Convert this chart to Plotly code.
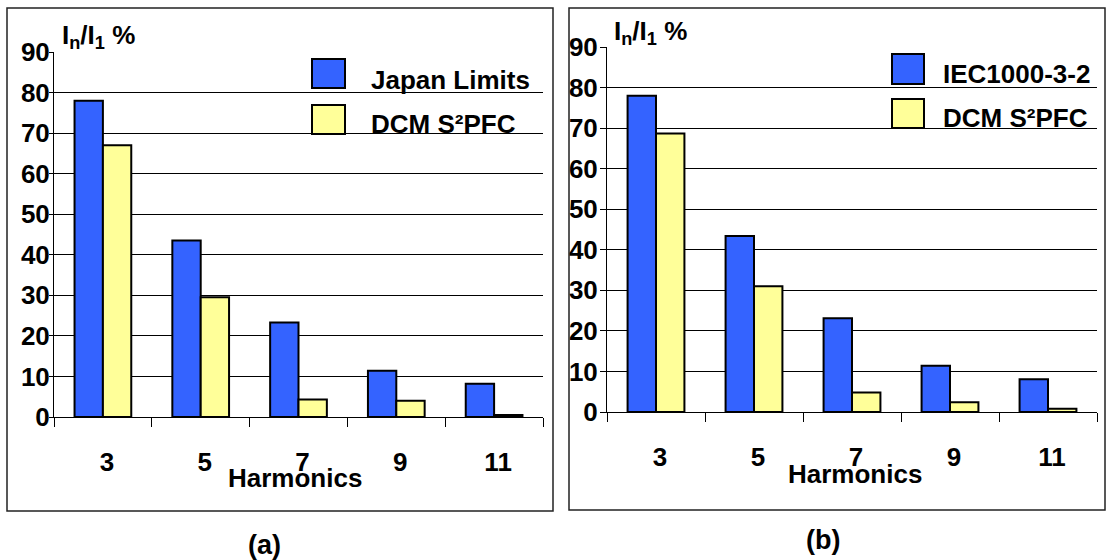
import plotly.graph_objects as go

# Harmonic orders and current ratios In/I1 (%)
harmonics = ["3", "5", "7", "9", "11"]
japan_limits = [78.0, 43.5, 23.3, 11.4, 8.2]
dcm_a = [67.0, 29.5, 4.3, 4.0, 0.5]
iec_limits = [78.0, 43.4, 23.1, 11.4, 8.1]
dcm_b = [68.7, 31.0, 4.8, 2.4, 0.8]
y_ticks = [0, 10, 20, 30, 40, 50, 60, 70, 80, 90]

W, H = 1110, 560
BLUE = "#3463FF"
YELLOW = "#FFFF99"
FONT = "Liberation Sans"


def fx(px):
    return px / W


def fy(py):
    return 1 - py / H


fig = go.Figure()

bar_line = dict(color="black", width=2)
fig.add_trace(go.Bar(x=harmonics, y=japan_limits, marker=dict(color=BLUE, line=bar_line),
                     xaxis="x", yaxis="y", showlegend=False, name="Japan Limits"))
fig.add_trace(go.Bar(x=harmonics, y=dcm_a, marker=dict(color=YELLOW, line=bar_line),
                     xaxis="x", yaxis="y", showlegend=False, name="DCM S²PFC"))
fig.add_trace(go.Bar(x=harmonics, y=iec_limits, marker=dict(color=BLUE, line=bar_line),
                     xaxis="x2", yaxis="y2", showlegend=False, name="IEC1000-3-2"))
fig.add_trace(go.Bar(x=harmonics, y=dcm_b, marker=dict(color=YELLOW, line=bar_line),
                     xaxis="x2", yaxis="y2", showlegend=False, name="DCM S²PFC"))

tick_font = dict(family=FONT, size=26, color="black", weight="bold")


def xaxis_cfg(x0, x1, anchor):
    return dict(
        domain=[fx(x0), fx(x1)], anchor=anchor, type="category", automargin=False,
        categoryorder="array", categoryarray=harmonics,
        range=[-0.5, len(harmonics) - 0.5],
        tickson="boundaries", ticks="outside", ticklen=9, tickwidth=1, tickcolor="black",
        showline=True, linecolor="black", linewidth=1, showgrid=False,
        tickfont=tick_font, ticklabelstandoff=22, ticklabelshift=4,
    )


def yaxis_cfg(y_top, y_zero, anchor, ticklen, standoff):
    return dict(
        domain=[fy(y_zero), fy(y_top)], anchor=anchor, range=[0, 90], automargin=False,
        tickmode="array", tickvals=y_ticks, ticktext=[str(v) for v in y_ticks],
        ticks="outside", ticklen=ticklen, tickwidth=1, tickcolor="black",
        showline=True, linecolor="black", linewidth=1,
        showgrid=True, gridcolor="black", gridwidth=1, zeroline=False,
        tickfont=tick_font, ticklabelstandoff=standoff,
    )


fig.update_layout(
    template="none",
    width=W, height=H, margin=dict(l=0, r=0, t=0, b=0, pad=0), autosize=False,
    paper_bgcolor="white", plot_bgcolor="rgba(0,0,0,0)",
    barmode="group", bargap=0.42, bargroupgap=0,
    xaxis=xaxis_cfg(54, 543, "y"),
    yaxis=yaxis_cfg(52, 417, "x", 4, -6),
    xaxis2=xaxis_cfg(607, 1097, "y2"),
    yaxis2=yaxis_cfg(47, 412, "x2", 6, -3),
    font=dict(family=FONT, color="black"),
)

shapes = []
annotations = []

# panel frames
for (x0, y0, x1, y1) in [(7, 8, 553, 511), (569, 8, 1105, 510)]:
    shapes.append(dict(type="rect", xref="paper", yref="paper",
                       x0=fx(x0), x1=fx(x1), y0=fy(y1), y1=fy(y0),
                       line=dict(color="#222", width=1.5), fillcolor="rgba(0,0,0,0)"))

# legend swatches and labels
legend_items = [
    (312, 345, 59, 88, BLUE, 369, 80, "Japan Limits"),
    (312, 345, 105, 134, YELLOW, 369, 124, "DCM S²PFC"),
    (892, 924, 54, 84, BLUE, 941, 74, "IEC1000-3-2"),
    (892, 924, 99, 128, YELLOW, 941, 118, "DCM S²PFC"),
]
for (x0, x1, y0, y1, col, tx, ty, label) in legend_items:
    shapes.append(dict(type="rect", xref="paper", yref="paper",
                       x0=fx(x0), x1=fx(x1), y0=fy(y1), y1=fy(y0),
                       line=dict(color="black", width=2), fillcolor=col))
    annotations.append(dict(xref="paper", yref="paper", x=fx(tx), y=fy(ty),
                            xanchor="left", yanchor="middle", showarrow=False,
                            text=label, font=dict(family=FONT, size=26, weight="bold")))

# axis titles and panel labels
text_items = [
    (60, 37, "left", "I<sub>n</sub>/I<sub>1</sub> %", 26),
    (612, 32, "left", "I<sub>n</sub>/I<sub>1</sub> %", 26),
    (295, 478, "center", "Harmonics", 26),
    (855, 474, "center", "Harmonics", 26),
    (264, 545, "center", "(a)", 27),
    (823, 540, "center", "(b)", 27),
]
for (tx, ty, anchor, label, size) in text_items:
    annotations.append(dict(xref="paper", yref="paper", x=fx(tx), y=fy(ty),
                            xanchor=anchor, yanchor="middle", showarrow=False,
                            text=label, font=dict(family=FONT, size=size, weight="bold")))

fig.update_layout(shapes=shapes, annotations=annotations)

fig.write_html("out.html")
